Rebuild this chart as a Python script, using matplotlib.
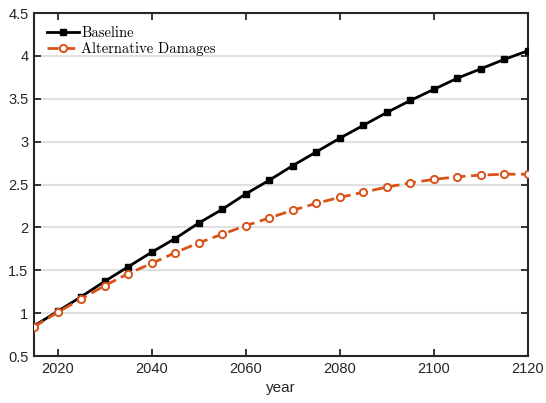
import numpy as np
import matplotlib.pyplot as plt

years = list(range(2015, 2121, 5))
baseline = [0.85, 1.02, 1.19, 1.37, 1.54, 1.71, 1.87, 2.05, 2.21, 2.39, 2.55,
            2.72, 2.88, 3.04, 3.19, 3.34, 3.48, 3.61, 3.74, 3.85, 3.96, 4.06]
alt_damages = [0.84, 1.01, 1.165, 1.32, 1.46, 1.58, 1.705, 1.82, 1.92, 2.02, 2.11,
               2.20, 2.28, 2.35, 2.41, 2.47, 2.52, 2.56, 2.59, 2.61, 2.62, 2.62]

xticks = [2020, 2040, 2060, 2080, 2100, 2120]
yticks = [0.5, 1, 1.5, 2, 2.5, 3, 3.5, 4, 4.5]

plt.rcParams['font.family'] = ['Liberation Sans', 'DejaVu Sans']
dark = '#262626'
orange = '#D95319'

fig = plt.figure(figsize=(5.46, 4.03), dpi=100)
ax = fig.add_axes([0.0623, 0.1166, 0.9047, 0.8511])

ax.plot(years, baseline, color='black', lw=2, marker='s', ms=5,
        mfc='black', mec='black', label='Baseline', zorder=3)
ax.plot(years, alt_damages, color=orange, lw=2, ls=(0, (4, 2)), marker='o', ms=5.2,
        mfc='white', mec=orange, mew=1.4, label='Alternative Damages', zorder=4)

ax.set_xlim(2015, 2120)
ax.set_ylim(0.5, 4.5)
ax.set_xticks(xticks)
ax.set_yticks(yticks)
ax.set_yticklabels(['0.5', '1', '1.5', '2', '2.5', '3', '3.5', '4', '4.5'])
ax.yaxis.grid(True, color='#e0e0e0', lw=1.5)
ax.set_axisbelow(True)
ax.tick_params(direction='in', top=True, right=True, length=5, width=1.3,
               colors=dark, labelsize=10.5, pad=4)
for s in ax.spines.values():
    s.set_linewidth(1.5)
    s.set_color(dark)
ax.set_xlabel('year', fontsize=11, color=dark, labelpad=4)

leg = ax.legend(loc='upper left', frameon=False, prop={'family': 'cmr10', 'size': 10.5},
                handlelength=2.2, handletextpad=0.15, borderaxespad=0.6,
                labelspacing=0.15, borderpad=0.3)

fig.savefig('out.png', dpi=100)
